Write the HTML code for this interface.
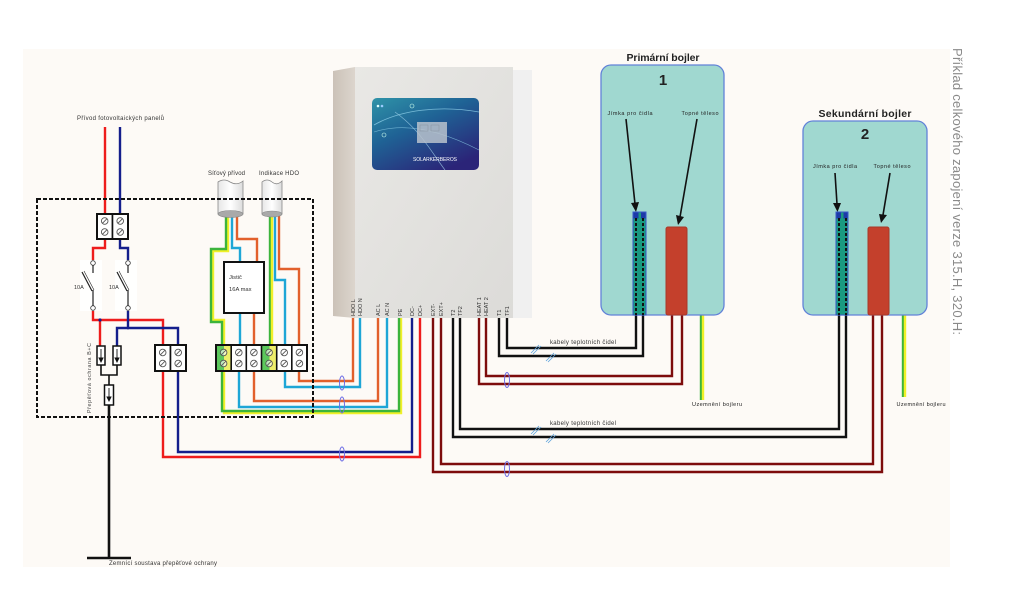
<!DOCTYPE html>
<html><head><meta charset="utf-8"><style>
html,body{margin:0;padding:0;background:#fff;}
svg{display:block;}
text{font-family:"Liberation Sans",sans-serif;}
</style></head><body>
<svg width="1010" height="600" viewBox="0 0 1010 600" xmlns="http://www.w3.org/2000/svg">
<defs>
<linearGradient id="front" x1="0" y1="0" x2="1" y2="1"><stop offset="0" stop-color="#e9e8e5"/><stop offset="1" stop-color="#dcdbd8"/></linearGradient>
<linearGradient id="side" x1="0" x2="1"><stop offset="0" stop-color="#cbc2b8"/><stop offset="1" stop-color="#dcd5cd"/></linearGradient>
<linearGradient id="scr" x1="0" y1="0" x2="0.7" y2="1"><stop offset="0" stop-color="#2f93a8"/><stop offset="0.45" stop-color="#1f6295"/><stop offset="1" stop-color="#2b2478"/></linearGradient>
<linearGradient id="cab" x1="0" x2="1"><stop offset="0" stop-color="#e6e6e6"/><stop offset="0.5" stop-color="#ffffff"/><stop offset="1" stop-color="#dcdcdc"/></linearGradient>
</defs>

<rect x="23" y="49" width="927" height="518" fill="#fdfaf6"/>

<!-- control unit -->
<rect x="513" y="70" width="19" height="248" fill="#f0f0f0"/>
<rect x="355" y="67" width="158" height="251" fill="url(#front)"/>
<polygon points="333,71 355,67 355,318 333,316" fill="url(#side)"/>
<rect x="372" y="98" width="107" height="72" rx="5" fill="url(#scr)"/>
<path d="M374,125 C400,110 440,105 479,112" stroke="#8fd0e8" stroke-width="0.8" fill="none" opacity="0.8"/>
<path d="M374,132 C410,120 450,135 479,150" stroke="#8fd0e8" stroke-width="0.6" fill="none" opacity="0.7"/>
<path d="M395,112 C420,130 430,150 445,170" stroke="#a8d8f0" stroke-width="0.7" fill="none" opacity="0.7"/>
<circle cx="378" cy="106" r="1.3" fill="#dff"/><circle cx="382" cy="106" r="1.3" fill="#9cf"/>
<circle cx="412" cy="106" r="2" fill="none" stroke="#cfe" stroke-width="0.6"/>
<circle cx="384" cy="135" r="2" fill="none" stroke="#cfe" stroke-width="0.6"/>
<rect x="417" y="122" width="30" height="21" fill="#b9c2cc" opacity="0.85"/>
<rect x="420" y="125" width="8" height="6" fill="none" stroke="#8893a0" stroke-width="0.5"/>
<rect x="431" y="125" width="8" height="6" fill="none" stroke="#8893a0" stroke-width="0.5"/>
<text x="435" y="161" font-size="5" fill="#fff" text-anchor="middle" textLength="44">SOLARKERBEROS</text>

<!-- unit terminal labels -->
<g font-size="5.5" fill="#333">
<text transform="translate(355,316) rotate(-90)">HDO L</text>
<text transform="translate(362,316) rotate(-90)">HDO N</text>
<text transform="translate(380,316) rotate(-90)">AC L</text>
<text transform="translate(389,316) rotate(-90)">AC N</text>
<text transform="translate(402,316) rotate(-90)">PE</text>
<text transform="translate(414,316) rotate(-90)">DC-</text>
<text transform="translate(422,316) rotate(-90)">DC+</text>
<text transform="translate(435,316) rotate(-90)">EXT-</text>
<text transform="translate(443,316) rotate(-90)">EXT+</text>
<text transform="translate(455,316) rotate(-90)">T2</text>
<text transform="translate(462,316) rotate(-90)">TF2</text>
<text transform="translate(481,316) rotate(-90)">HEAT 1</text>
<text transform="translate(488,316) rotate(-90)">HEAT 2</text>
<text transform="translate(501,316) rotate(-90)">T1</text>
<text transform="translate(509,316) rotate(-90)">TF1</text>
</g>

<!-- wires -->
<g fill="none" stroke-width="2.4" stroke-linejoin="miter">
<!-- unit to left -->
<polyline points="299,371 299,381 353,381 353,318" stroke="#e2602c"/>
<polyline points="285,371 285,387 360,387 360,318" stroke="#1ea6d6"/>
<polyline points="254,371 254,401 378,401 378,318" stroke="#e2602c"/>
<polyline points="239,371 239,407 387,407 387,318" stroke="#1ea6d6"/>
<polyline points="224,371 224,413 401,413 401,318" stroke="#f0f028"/>
<polyline points="222,371 222,411 399,411 399,318" stroke="#3cb43c"/>
<polyline points="178,371 178,452 412,452 412,318" stroke="#141e8c"/>
<polyline points="163,371 163,457 420,457 420,318" stroke="#ee1c1c"/>
<!-- unit to boilers -->
<polyline points="433,318 433,472 882,472 882,315" stroke="#7d0c0c"/>
<polyline points="441,318 441,464 873,464 873,315" stroke="#7d0c0c"/>
<polyline points="453,318 453,437 846,437 846,315" stroke="#111"/>
<polyline points="460,318 460,429 839,429 839,315" stroke="#111"/>
<polyline points="479,318 479,384 682,384 682,315" stroke="#7d0c0c"/>
<polyline points="486,318 486,376 672,376 672,315" stroke="#7d0c0c"/>
<polyline points="499,318 499,356 643,356 643,315" stroke="#111"/>
<polyline points="507,318 507,348 636,348 636,315" stroke="#111"/>

<!-- PV input -->
<polyline points="105,127 105,214" stroke="#ee1c1c"/>
<polyline points="120,127 120,214" stroke="#141e8c"/>
<polyline points="105,239 105,248 93,248 93,261" stroke="#ee1c1c"/>
<polyline points="120,239 120,248 128,248 128,261" stroke="#141e8c"/>
<polyline points="93,310 93,320 163,320 163,345" stroke="#ee1c1c"/>
<polyline points="100,320 100,346" stroke="#ee1c1c"/>
<polyline points="128,310 128,328" stroke="#141e8c"/>
<polyline points="117,346 117,328 178,328 178,345" stroke="#141e8c"/>

<!-- AC cable 1 -->
<polyline points="228,214 228,251 213,251 213,320 224,320 224,345" stroke="#f0f028"/>
<polyline points="226,214 226,249 211,249 211,322 222,322 222,345" stroke="#3cb43c"/>
<polyline points="232,214 232,248 240,248 240,262" stroke="#1ea6d6"/>
<polyline points="240,313 240,345" stroke="#1ea6d6"/>
<polyline points="237,214 237,239 257,239 257,262" stroke="#e2602c"/>
<polyline points="254,313 254,345" stroke="#e2602c"/>
<!-- HDO cable -->
<polyline points="270,214 270,345" stroke="#3cb43c"/>
<polyline points="272,214 272,345" stroke="#f0f028"/>
<polyline points="275,214 275,280 285,280 285,345" stroke="#1ea6d6"/>
<polyline points="279,214 279,269 299,269 299,345" stroke="#e2602c"/>

<!-- boiler grounds -->
<line x1="701" y1="307" x2="701" y2="400" stroke="#3cb43c"/>
<line x1="703" y1="307" x2="703" y2="400" stroke="#f0f028"/>
<line x1="903" y1="307" x2="903" y2="397" stroke="#3cb43c"/>
<line x1="905" y1="307" x2="905" y2="397" stroke="#f0f028"/>

<!-- SPD / ground -->
<polyline points="101,365 101,375 117,375 117,365" stroke="#111" stroke-width="1.6"/>
<line x1="109" y1="375" x2="109" y2="385" stroke="#111" stroke-width="1.6"/>
<line x1="109" y1="405" x2="109" y2="558" stroke="#111" stroke-width="2.6"/>
<line x1="87" y1="558" x2="131" y2="558" stroke="#111" stroke-width="2.6"/>
</g>
<circle cx="100" cy="320" r="1.6" fill="#141e8c"/>
<circle cx="128" cy="328" r="1.4" fill="#141e8c"/>

<!-- switches -->
<rect x="80" y="260" width="22" height="51" fill="#fff" opacity="0.9"/>
<rect x="115" y="260" width="22" height="51" fill="#fff" opacity="0.9"/>
<g stroke="#333" fill="#fff" stroke-width="0.8">
<circle cx="93" cy="263" r="2.3"/><circle cx="93" cy="308" r="2.3"/>
<circle cx="128" cy="263" r="2.3"/><circle cx="128" cy="308" r="2.3"/>
</g>
<g stroke="#222" stroke-width="1.2" fill="none">
<line x1="93" y1="265" x2="93" y2="273"/><line x1="93" y1="290" x2="93" y2="306"/>
<line x1="82" y1="272" x2="92" y2="291"/><line x1="84" y1="271" x2="94" y2="290" stroke-width="0.6"/>
<line x1="128" y1="265" x2="128" y2="273"/><line x1="128" y1="290" x2="128" y2="306"/>
<line x1="117" y1="272" x2="127" y2="291"/><line x1="119" y1="271" x2="129" y2="290" stroke-width="0.6"/>
</g>
<text x="74" y="289" font-size="5.5" fill="#333">10A</text>
<text x="109" y="289" font-size="5.5" fill="#333">10A</text>

<!-- SPD boxes -->
<g fill="#fff" stroke="#111" stroke-width="1.5">
<rect x="97" y="346" width="8" height="19"/>
<rect x="113" y="346" width="8" height="19"/>
<rect x="104.5" y="385" width="9" height="20"/>
</g>
<g stroke="#111" stroke-width="0.9" fill="#111">
<line x1="101" y1="349" x2="101" y2="360"/><polygon points="99,358 103,358 101,362"/>
<line x1="117" y1="349" x2="117" y2="360"/><polygon points="115,358 119,358 117,362"/>
<line x1="109" y1="388" x2="109" y2="399"/><polygon points="107,397 111,397 109,401"/>
</g>
<text transform="translate(91,413) rotate(-90)" font-size="5.3" fill="#444" textLength="70">Přepěťová ochrana B+C</text>

<!-- cables cylinders -->
<path d="M218,182 Q224,178 230,182 Q237,186 243,181 L243,214 L218,214 Z" fill="url(#cab)" stroke="#888" stroke-width="0.8"/>
<ellipse cx="230.5" cy="214" rx="12.5" ry="3.5" fill="#a9a9a9" stroke="#888" stroke-width="0.6"/>
<path d="M262,182 Q267,178 272,182 Q277,186 282,181 L282,214 L262,214 Z" fill="url(#cab)" stroke="#888" stroke-width="0.8"/>
<ellipse cx="272" cy="214" rx="10" ry="3" fill="#a9a9a9" stroke="#888" stroke-width="0.6"/>

<!-- breaker -->
<rect x="224" y="262" width="40" height="51" fill="#fff" stroke="#111" stroke-width="2"/>
<text x="229" y="279" font-size="5.8" fill="#333">Jistič</text>
<text x="229" y="291" font-size="5.8" fill="#333">16A max</text>

<!-- terminals -->
<g stroke="#111" stroke-width="1.6">
<rect x="97" y="214" width="15.5" height="25" fill="#fff"/>
<rect x="112.5" y="214" width="15.5" height="25" fill="#fff"/>
<rect x="155" y="345" width="15.5" height="26" fill="#fff"/>
<rect x="170.5" y="345" width="15.5" height="26" fill="#fff"/>
</g>
<g stroke="none">
<rect x="216" y="345" width="8" height="26" fill="#5cc85c"/>
<rect x="224" y="345" width="7.2" height="26" fill="#eeee6a"/>
<rect x="261.5" y="345" width="8" height="26" fill="#5cc85c"/>
<rect x="269.5" y="345" width="7.2" height="26" fill="#eeee6a"/>
<rect x="231.2" y="345" width="30.3" height="26" fill="#fff"/>
<rect x="276.7" y="345" width="30.3" height="26" fill="#fff"/>
</g>
<g stroke="#111" stroke-width="1.6" fill="none">
<rect x="216" y="345" width="91" height="26" stroke-width="2"/>
<line x1="231.2" y1="345" x2="231.2" y2="371"/>
<line x1="246.3" y1="345" x2="246.3" y2="371"/>
<line x1="261.5" y1="345" x2="261.5" y2="371"/>
<line x1="276.7" y1="345" x2="276.7" y2="371"/>
<line x1="291.8" y1="345" x2="291.8" y2="371"/>
<rect x="97" y="214" width="31" height="25" stroke-width="2"/>
<rect x="155" y="345" width="31" height="26" stroke-width="2"/>
</g>
<g fill="#fff" fill-opacity="0.6" stroke="#555" stroke-width="0.9">
<circle cx="104.7" cy="221" r="3.3"/><circle cx="104.7" cy="232" r="3.3"/>
<circle cx="120.2" cy="221" r="3.3"/><circle cx="120.2" cy="232" r="3.3"/>
<circle cx="162.7" cy="352.5" r="3.3"/><circle cx="162.7" cy="363.5" r="3.3"/>
<circle cx="178.2" cy="352.5" r="3.3"/><circle cx="178.2" cy="363.5" r="3.3"/>
<circle cx="223.6" cy="352.5" r="3.3"/><circle cx="223.6" cy="363.5" r="3.3"/>
<circle cx="238.8" cy="352.5" r="3.3"/><circle cx="238.8" cy="363.5" r="3.3"/>
<circle cx="253.9" cy="352.5" r="3.3"/><circle cx="253.9" cy="363.5" r="3.3"/>
<circle cx="269.1" cy="352.5" r="3.3"/><circle cx="269.1" cy="363.5" r="3.3"/>
<circle cx="284.2" cy="352.5" r="3.3"/><circle cx="284.2" cy="363.5" r="3.3"/>
<circle cx="299.4" cy="352.5" r="3.3"/><circle cx="299.4" cy="363.5" r="3.3"/>
</g>
<g stroke="#555" stroke-width="0.9">
<line x1="102.4" y1="223.3" x2="107" y2="218.7"/><line x1="102.4" y1="234.3" x2="107" y2="229.7"/>
<line x1="117.9" y1="223.3" x2="122.5" y2="218.7"/><line x1="117.9" y1="234.3" x2="122.5" y2="229.7"/>
<line x1="160.4" y1="354.8" x2="165" y2="350.2"/><line x1="160.4" y1="365.8" x2="165" y2="361.2"/>
<line x1="175.9" y1="354.8" x2="180.5" y2="350.2"/><line x1="175.9" y1="365.8" x2="180.5" y2="361.2"/>
<line x1="221.3" y1="354.8" x2="225.9" y2="350.2"/><line x1="221.3" y1="365.8" x2="225.9" y2="361.2"/>
<line x1="236.5" y1="354.8" x2="241.1" y2="350.2"/><line x1="236.5" y1="365.8" x2="241.1" y2="361.2"/>
<line x1="251.6" y1="354.8" x2="256.2" y2="350.2"/><line x1="251.6" y1="365.8" x2="256.2" y2="361.2"/>
<line x1="266.8" y1="354.8" x2="271.4" y2="350.2"/><line x1="266.8" y1="365.8" x2="271.4" y2="361.2"/>
<line x1="281.9" y1="354.8" x2="286.5" y2="350.2"/><line x1="281.9" y1="365.8" x2="286.5" y2="361.2"/>
<line x1="297.1" y1="354.8" x2="301.7" y2="350.2"/><line x1="297.1" y1="365.8" x2="301.7" y2="361.2"/>
</g>

<!-- dashed enclosure -->
<rect x="37" y="199" width="276" height="218" fill="none" stroke="#111" stroke-width="2" stroke-dasharray="4,2"/>

<!-- cable binders -->
<g fill="none" stroke="#6f6fe6" stroke-width="1">
<ellipse cx="342" cy="383" rx="2.5" ry="7"/>
<ellipse cx="342" cy="405" rx="2.5" ry="8"/>
<ellipse cx="342" cy="454" rx="2.5" ry="7"/>
<ellipse cx="507" cy="380" rx="2.5" ry="7.5"/>
<ellipse cx="507" cy="469" rx="2.5" ry="7.5"/>
</g>
<!-- hash marks -->
<g stroke="#5aa0dc" stroke-width="0.8">
<line x1="531" y1="353" x2="539" y2="345"/><line x1="533" y1="354" x2="541" y2="346"/>
<line x1="546" y1="361" x2="554" y2="353"/><line x1="548" y1="362" x2="556" y2="354"/>
<line x1="531" y1="434" x2="539" y2="426"/><line x1="533" y1="435" x2="541" y2="427"/>
<line x1="546" y1="442" x2="554" y2="434"/><line x1="548" y1="443" x2="556" y2="435"/>
</g>
<text x="550" y="344" font-size="6" fill="#333" textLength="66">kabely teplotních čidel</text>
<text x="550" y="425" font-size="6" fill="#333" textLength="66">kabely teplotních čidel</text>

<!-- primary boiler -->
<rect x="601" y="65" width="123" height="250" rx="10" fill="#a0d8d0" stroke="#6282d8" stroke-width="1.3"/>
<text x="663" y="61" font-size="10.5" font-weight="bold" fill="#222" text-anchor="middle" textLength="73">Primární bojler</text>
<text x="663" y="85" font-size="15" font-weight="bold" fill="#222" text-anchor="middle">1</text>
<text x="630" y="115" font-size="5.5" fill="#222" text-anchor="middle" textLength="45">Jímka pro čidla</text>
<text x="700" y="115" font-size="5.5" fill="#222" text-anchor="middle" textLength="37">Topné těleso</text>
<line x1="626" y1="119" x2="635" y2="204" stroke="#111" stroke-width="1.6"/>
<polygon points="631,203 639,202 636,212" fill="#111"/>
<line x1="697" y1="119" x2="680" y2="217" stroke="#111" stroke-width="1.6"/>
<polygon points="676,215 684,217 678,225" fill="#111"/>
<rect x="633" y="212" width="13" height="103" fill="#1a9a80" stroke="#3858c8" stroke-width="1"/>
<rect x="633.5" y="212.5" width="5" height="6" fill="#1c3aa8"/>
<rect x="641" y="212.5" width="4.5" height="6" fill="#1c3aa8"/>
<line x1="636" y1="218" x2="636" y2="315" stroke="#111" stroke-width="2" stroke-dasharray="3,2"/>
<line x1="643" y1="218" x2="643" y2="315" stroke="#111" stroke-width="2" stroke-dasharray="3,2"/>
<rect x="666" y="227" width="21" height="88" rx="2" fill="#c4402c" stroke="#a83828" stroke-width="1"/>
<text x="717" y="406" font-size="5.5" fill="#222" text-anchor="middle" textLength="50">Uzemnění bojleru</text>

<!-- secondary boiler -->
<rect x="803" y="121" width="124" height="194" rx="10" fill="#a0d8d0" stroke="#6282d8" stroke-width="1.3"/>
<text x="865" y="117" font-size="10.5" font-weight="bold" fill="#222" text-anchor="middle" textLength="93">Sekundární bojler</text>
<text x="865" y="139" font-size="15" font-weight="bold" fill="#222" text-anchor="middle">2</text>
<text x="835" y="168" font-size="5.5" fill="#222" text-anchor="middle" textLength="44">Jímka pro čidla</text>
<text x="892" y="168" font-size="5.5" fill="#222" text-anchor="middle" textLength="37">Topné těleso</text>
<line x1="835" y1="173" x2="837" y2="204" stroke="#111" stroke-width="1.6"/>
<polygon points="833,203 841,203 837.5,212" fill="#111"/>
<line x1="890" y1="173" x2="883" y2="215" stroke="#111" stroke-width="1.6"/>
<polygon points="879,214 887,215 881,223" fill="#111"/>
<rect x="836" y="212" width="12" height="103" fill="#1a9a80" stroke="#3858c8" stroke-width="1"/>
<rect x="836.5" y="212.5" width="4.5" height="6" fill="#1c3aa8"/>
<rect x="843.5" y="212.5" width="4" height="6" fill="#1c3aa8"/>
<line x1="839" y1="218" x2="839" y2="315" stroke="#111" stroke-width="2" stroke-dasharray="3,2"/>
<line x1="846" y1="218" x2="846" y2="315" stroke="#111" stroke-width="2" stroke-dasharray="3,2"/>
<rect x="868" y="227" width="21" height="88" rx="2" fill="#c4402c" stroke="#a83828" stroke-width="1"/>
<text x="921" y="406" font-size="5.5" fill="#222" text-anchor="middle" textLength="49">Uzemnění bojleru</text>

<!-- left labels -->
<text x="77" y="120" font-size="6" fill="#333" textLength="87">Přívod fotovoltaických panelů</text>
<text x="208" y="175" font-size="6" fill="#333" textLength="37">Síťový přívod</text>
<text x="259" y="175" font-size="6" fill="#333" textLength="40">Indikace HDO</text>
<text x="109" y="565" font-size="6" fill="#333" textLength="108">Zemnící soustava přepěťové ochrany</text>

<!-- vertical title -->
<text transform="translate(953,48) rotate(90)" font-size="13" fill="#8a8a8a" textLength="287">Příklad celkového zapojení verze 315.H, 320.H:</text>
</svg>
</body></html>
